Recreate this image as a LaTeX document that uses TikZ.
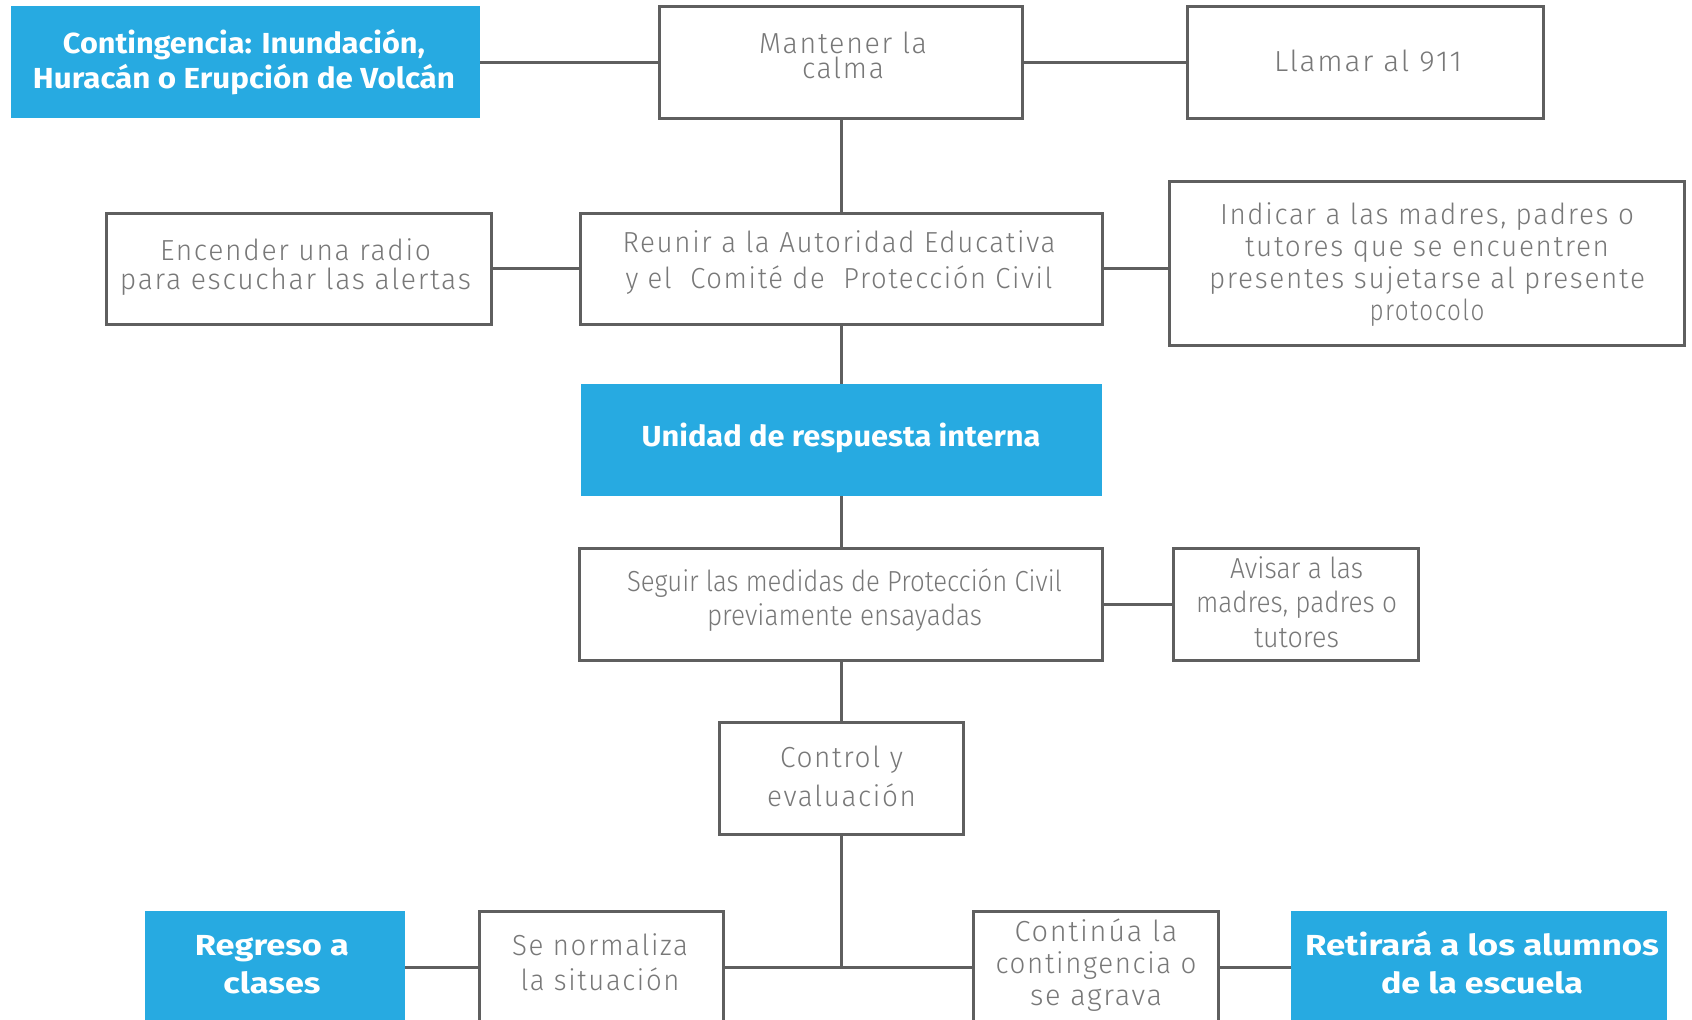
\documentclass[tikz,border=0pt]{standalone}
\usepackage{fontspec}
\usepackage{graphicx}
\setmainfont{Fira Sans}
\newfontfamily\ltfont{Fira Sans Light}
\newfontfamily\ltsp{Fira Sans Light}[LetterSpace=6]
\definecolor{cblue}{RGB}{39,170,225}
\definecolor{cline}{RGB}{95,95,95}
\definecolor{ctext}{RGB}{120,120,120}
\newcommand\fw[2]{\resizebox{#1pt}{\height}{#2}}
\tikzset{
  box/.style={draw=cline, line width=3pt, fill=white, inner sep=0pt},
  bbox/.style={fill=cblue, draw=none, inner sep=0pt},
  gtxt/.style={text=ctext, align=center, inner sep=0pt, anchor=base},
  wtxt/.style={text=white, align=center, inner sep=0pt, anchor=base},
  conn/.style={draw=cline, line width=3pt}
}
\begin{document}
\begin{tikzpicture}[x=1pt,y=-1pt]
\useasboundingbox (0,0) rectangle (1692,1020);
\clip (0,0) rectangle (1692,1020);
\fill[white] (0,0) rectangle (1692,1020);
% boxes
\node[bbox, minimum width=469pt, minimum height=112pt] (cont) at (245.5,62) {};
\node[box, minimum width=363pt, minimum height=112pt] (mant) at (841,62) {};
\node[box, minimum width=356pt, minimum height=112pt] (llam) at (1365,62) {};
\node[box, minimum width=385pt, minimum height=111pt] (enc) at (298.5,268.5) {};
\node[box, minimum width=522pt, minimum height=111pt] (reun) at (841,268.5) {};
\node[box, minimum width=515pt, minimum height=164pt] (ind) at (1426.5,263) {};
\node[bbox, minimum width=521pt, minimum height=112pt] (unid) at (841,440) {};
\node[box, minimum width=523pt, minimum height=112pt] (seg) at (841,604) {};
\node[box, minimum width=245pt, minimum height=112pt] (avis) at (1295.5,604) {};
\node[box, minimum width=244pt, minimum height=112pt] (ctrl) at (841,778) {};
\node[bbox, minimum width=260pt, minimum height=112pt] (reg) at (275,967) {};
\node[box, minimum width=244pt, minimum height=112pt] (norm) at (601,967) {};
\node[box, minimum width=245pt, minimum height=112pt] (cont2) at (1095.5,967) {};
\node[bbox, minimum width=376pt, minimum height=112pt] (ret) at (1479,967) {};
\coordinate (j) at (841,966);
% connectors
\draw[conn] (cont.east) -- (mant.west);
\draw[conn] (mant.east) -- (llam.west);
\draw[conn] (mant.south) -- (reun.north);
\draw[conn] (enc.east) -- (reun.west);
\draw[conn] (reun.east) -- (reun.east -| ind.west);
\draw[conn] (reun.south) -- (unid.north);
\draw[conn] (unid.south) -- (seg.north);
\draw[conn] (seg.east) -- (avis.west);
\draw[conn] (seg.south) -- (ctrl.north);
\draw[conn] (ctrl.south) -- (j);
\draw[conn] (reg.east) -- (norm.west);
\draw[conn] (norm.east) -- (cont2.west);
\draw[conn] (cont2.east) -- (ret.west);
% texts (positioned at the baseline of the last line)
\node[wtxt, font=\bfseries\fontsize{29}{35}\selectfont] (contT) at (244,88.3)
  {\fw{362}{Contingencia: Inundación,}\\\fw{422}{Huracán o Erupción de Volcán}};
\node[gtxt, font=\ltsp\fontsize{29}{25}\selectfont] (mantT) at (843,78.3)
  {\fw{168}{Mantener la}\\\fw{82}{calma}};
\node[gtxt, font=\ltsp\fontsize{29}{35}\selectfont] (llamT) at (1368,71)
  {\fw{188}{Llamar al 911}};
\node[gtxt, font=\ltsp\fontsize{29}{28.3}\selectfont] (encT) at (295.5,289)
  {\fw{271}{Encender una radio}\\\fw{351}{para escuchar las alertas}};
\node[gtxt, font=\ltsp\fontsize{29}{35.6}\selectfont] (reunT) at (839,288.3)
  {\fw{433}{Reunir a la Autoridad Educativa}\\\fw{427}{y el\ \ Comité de\ \ Protección Civil}};
\node[gtxt, font=\ltsp\fontsize{29}{31.7}\selectfont] (indT) at (1427,320)
  {\fw{414}{Indicar a las madres, padres o}\\\fw{364}{tutores que se encuentren}\\\fw{436}{presentes sujetarse al presente}\\\fw{115}{protocolo}};
\node[wtxt, font=\bfseries\fontsize{29}{35}\selectfont] (unidT) at (841,446.7)
  {\fw{399}{Unidad de respuesta interna}};
\node[gtxt, font=\ltfont\fontsize{29}{33.3}\selectfont] (segT) at (844.5,625)
  {\fw{435}{Seguir las medidas de Protección Civil}\\\fw{275}{previamente ensayadas}};
\node[gtxt, font=\ltfont\fontsize{29}{34.5}\selectfont] (avisT) at (1296.5,647.3)
  {\fw{133}{Avisar a las}\\\fw{201}{madres, padres o}\\\fw{85}{tutores}};
\node[gtxt, font=\ltsp\fontsize{29}{39.4}\selectfont] (ctrlT) at (841.5,806.7)
  {\fw{123}{Control y}\\\fw{149}{evaluación}};
\node[wtxt, font=\bfseries\fontsize{29}{38.3}\selectfont] (regT) at (272,993.3)
  {\fw{154}{Regreso a}\\\fw{97}{clases}};
\node[gtxt, font=\ltsp\fontsize{29}{35}\selectfont] (normT) at (600,990)
  {\fw{176}{Se normaliza}\\\fw{159}{la situación}};
\node[gtxt, font=\ltsp\fontsize{29}{31.7}\selectfont] (cont2T) at (1096,1005)
  {\fw{163}{Continúa la}\\\fw{201}{contingencia o}\\\fw{132}{se agrava}};
\node[wtxt, font=\bfseries\fontsize{29}{38.3}\selectfont] (retT) at (1482,993.3)
  {\fw{354}{Retirará a los alumnos}\\\fw{202}{de la escuela}};
\end{tikzpicture}
\end{document}
